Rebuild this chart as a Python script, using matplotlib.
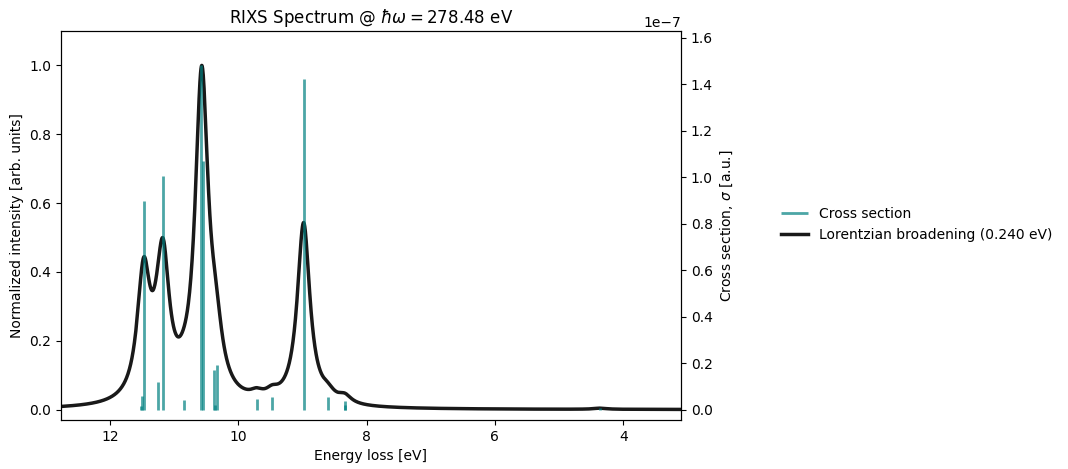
import numpy as np
import matplotlib
matplotlib.use("Agg")
import matplotlib.pyplot as plt

# stick spectrum (energy loss in eV, cross section in units of 1e-7)
stick_energy = [11.52, 11.50, 11.47, 11.255, 11.17, 10.85, 10.58, 10.55,
                10.37, 10.36, 10.33, 9.71, 9.47, 8.98, 8.60, 8.34, 8.33, 4.36]
stick_sigma = [0.015, 0.06, 0.897, 0.12, 1.006, 0.043, 1.48, 1.07,
               0.17, 0.018, 0.19, 0.047, 0.056, 1.42, 0.056, 0.038, 0.02, 0.009]
fwhm = 0.240
photon_energy = 278.48
e_range = (3.10, 12.76)

e = np.array(stick_energy)
s = np.array(stick_sigma) * 1e-7

# lorentzian broadening of the sticks
grid = np.linspace(e_range[0], e_range[1], 3000)
gam = fwhm / 2.0
spec = np.zeros_like(grid)
for ei, si in zip(e, s):
    spec += si * (gam / np.pi) / ((grid - ei) ** 2 + gam ** 2)
spec = spec / spec.max()

fig = plt.figure(figsize=(10.68, 4.69), dpi=100)
ax = fig.add_axes([61 / 1068, 49 / 469, 620 / 1068, 389 / 469])
ax2 = ax.twinx()

ln, = ax.plot(grid, spec, color='k', lw=2.5, alpha=0.9,
              label='Lorentzian broadening (%.3f eV)' % fwhm)
vl = ax2.vlines(e, 0, s, color='teal', lw=2, alpha=0.7, label='Cross section')

ax.set_xlim(e_range[1], e_range[0])
ax.set_ylim(-0.03, 1.1)
ax2.set_ylim(-0.03 * s.max(), 1.1 * s.max())

ax.set_xlabel('Energy loss [eV]')
ax.set_ylabel('Normalized intensity [arb. units]')
ax2.set_ylabel(r'Cross section, $\sigma$ [a.u.]')
ax.set_title(r'RIXS Spectrum @ $\hbar\omega = %.2f$ eV' % photon_energy)

fig.legend([vl, ln], [vl.get_label(), ln.get_label()], loc='center left',
           bbox_to_anchor=(768 / 1068, 0.521), frameon=False)

fig.savefig('out.png', dpi=100)
